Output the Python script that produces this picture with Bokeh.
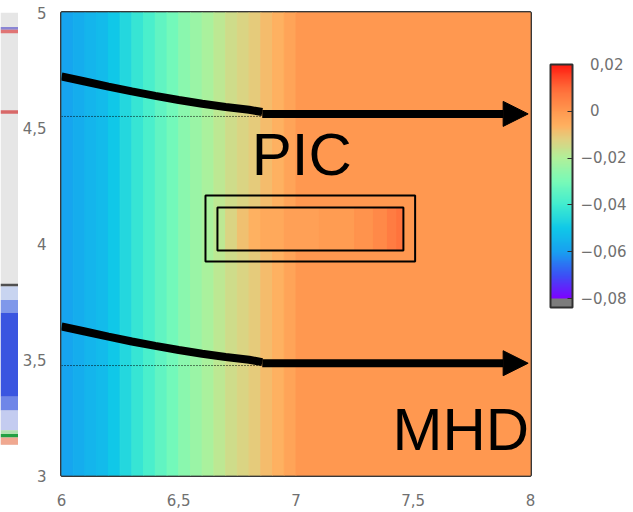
import numpy as np
from bokeh.plotting import figure
from bokeh.layouts import row
from bokeh.models import (Range1d, LinearColorMapper, ColorBar, FixedTicker,
                          CustomJSTickFormatter, Arrow, NormalHead,
                          ColumnDataSource, Label)
from bokeh.embed import file_html
from bokeh.resources import INLINE

# ---------------- colour scale ----------------
CMAP_LOW, CMAP_HIGH = -0.0838, 0.02
cmap_stops = [-0.080, -0.070, -0.060, -0.050, -0.040, -0.030,
              -0.020, -0.012, -0.006, 0.000, 0.010, 0.020]
cmap_colors = ["#7f00ff", "#3c50f5", "#18a0f0", "#10c8e8", "#40ecd0", "#78fab8",
               "#b0f09a", "#e0d080", "#ffb060", "#ff9850", "#ff6a38", "#ff1a10"]
under_color = "#7c7c7c"
colorbar_ticks = [-0.08, -0.06, -0.04, -0.02, 0.0, 0.02]

# ---------------- background field (banded along x) ----------------
band_edges = [6.00, 6.05, 6.10, 6.15, 6.20, 6.25, 6.30, 6.35, 6.40, 6.45, 6.50,
              6.55, 6.60, 6.65, 6.70, 6.75, 6.80, 6.85, 6.90, 6.95, 7.00, 8.00]
band_values = [-0.059, -0.057, -0.055, -0.053, -0.050, -0.046, -0.042, -0.038,
               -0.034, -0.031, -0.027, -0.024, -0.021, -0.018, -0.015, -0.013,
               -0.011, -0.008, -0.006, -0.003, 0.000]

# ---------------- PIC sub-domain ----------------
pic_edges = [6.665, 6.70, 6.75, 6.80, 6.85, 6.95, 7.10, 7.25, 7.33, 7.39, 7.43, 7.458]
pic_values = [-0.018, -0.013, -0.009, -0.006, -0.004, -0.002, -0.001,
              0.001, 0.003, 0.006, 0.008]
pic_inner_x = [6.665, 7.458]
pic_inner_y = [3.972, 4.158]
pic_outer_x = [6.614, 7.508]
pic_outer_y = [3.924, 4.210]

# ---------------- boundary curves and arrows ----------------
curve_x = [6.00, 6.10, 6.20, 6.30, 6.40, 6.50, 6.60, 6.70, 6.80, 6.856]
upper_y = [4.724, 4.702, 4.680, 4.659, 4.640, 4.622, 4.606, 4.592, 4.580, 4.570]
lower_y = [3.644, 3.622, 3.600, 3.579, 3.560, 3.542, 3.526, 3.512, 3.500, 3.490]
arrow_x_start = [6.856, 6.856]
arrow_x_end = [7.99, 7.99]
arrow_y = [4.562, 3.485]
dotted_x = [6.0, 6.856]
dotted_y = [4.551, 3.475]

x_ticks = [6, 6.5, 7, 7.5, 8]
y_ticks = [3, 3.5, 4, 4.5, 5]

# ---------------- neighbouring panel fragment (pixel rows) ----------------
strip_top = [16, 19, 108, 300, 303, 318, 332, 425, 440, 462, 466, 470]
strip_bottom = [19, 23, 112, 303, 318, 332, 425, 440, 462, 466, 470, 478]
strip_colors = ["#8a86d4", "#e07474", "#d86868", "#505050", "#c8d4f0", "#7f98ea",
                "#3a55e0", "#6f86e8", "#c4ccf0", "#b0e0b0", "#22a042", "#f0a890"]


def build_palette(n=256):
    rgb = np.array([[int(c[i:i + 2], 16) for i in (1, 3, 5)] for c in cmap_colors], float)
    out = []
    step = (CMAP_HIGH - CMAP_LOW) / n
    for k in range(n):
        v = CMAP_LOW + (k + 0.5) * step
        if v < -0.080:
            out.append(under_color)
            continue
        ch = [int(round(np.interp(v, cmap_stops, rgb[:, j]))) for j in range(3)]
        out.append("#%02x%02x%02x" % tuple(ch))
    return out


mapper = LinearColorMapper(palette=build_palette(), low=CMAP_LOW, high=CMAP_HIGH)
mapped = {"field": "value", "transform": mapper}

TICK_FONT = "DejaVu Sans"
TICK_COLOR = "#707070"

p = figure(width=614, height=512, x_range=Range1d(6, 8), y_range=Range1d(3, 5),
           min_border_left=39, min_border_right=103, min_border_top=12,
           min_border_bottom=37, output_backend="svg", toolbar_location=None)
p.grid.visible = False
p.outline_line_color = "#383838"
p.outline_line_width = 3
p.background_fill_color = "white"
p.border_fill_color = "white"

for ax, ticks in ((p.xaxis, x_ticks), (p.yaxis, y_ticks)):
    ax.ticker = FixedTicker(ticks=ticks)
    ax.formatter = CustomJSTickFormatter(code="return String(tick).replace('.', ',');")
    ax.axis_line_color = None
    ax.major_tick_line_color = None
    ax.minor_tick_line_color = None
    ax.major_label_text_font = TICK_FONT
    ax.major_label_text_font_size = "15px"
    ax.major_label_text_color = TICK_COLOR
p.xaxis.major_label_standoff = 12
p.yaxis.major_label_standoff = 9

# field bands (stroked in their own colour so no seams show between them)
bands = ColumnDataSource(dict(left=band_edges[:-1], right=band_edges[1:], value=band_values))
p.quad(left="left", right="right", bottom=3, top=5, source=bands,
       fill_color=mapped, line_color=mapped, line_width=1)

# PIC region field
pic = ColumnDataSource(dict(left=pic_edges[:-1], right=pic_edges[1:], value=pic_values))
p.quad(left="left", right="right", bottom=pic_inner_y[0], top=pic_inner_y[1], source=pic,
       fill_color=mapped, line_color=mapped, line_width=1)

# PIC boxes
for bx, by in ((pic_inner_x, pic_inner_y), (pic_outer_x, pic_outer_y)):
    p.quad(left=bx[0], right=bx[1], bottom=by[0], top=by[1],
           fill_color=None, line_color="black", line_width=2)

# dotted reference lines
for dy in dotted_y:
    p.line(dotted_x, [dy, dy], line_color="black", line_width=1, line_dash="1 2")

# boundary curves
p.line(curve_x, upper_y, line_color="black", line_width=8)
p.line(curve_x, lower_y, line_color="black", line_width=8)

arrows = ColumnDataSource(dict(x0=arrow_x_start, x1=arrow_x_end, y=arrow_y))
p.add_layout(Arrow(x_start="x0", y_start="y", x_end="x1", y_end="y", source=arrows,
                   line_color="black", line_width=8,
                   end=NormalHead(size=25, fill_color="black", line_color="black")))

p.add_layout(Label(x=7.025, y=4.244, text="PIC", text_font="Liberation Sans",
                   text_font_size="60px", text_align="center", text_color="black"))
p.add_layout(Label(x=7.703, y=3.052, text="MHD", text_font="Liberation Sans",
                   text_font_size="60px", text_align="center", text_color="black"))

cbar_fmt = CustomJSTickFormatter(code="""
    if (Math.abs(tick) < 1e-9) return '\\u2007' + '0';
    const s = Math.abs(tick).toFixed(2).replace('.', ',');
    return (tick < 0 ? '\\u2212' : '\\u2007') + s;
""")
cbar = ColorBar(color_mapper=mapper, ticker=FixedTicker(ticks=colorbar_ticks),
                formatter=cbar_fmt, width=22, height=243, location=(20, 168),
                padding=0, margin=0, label_standoff=8,
                border_line_color=None, background_fill_alpha=0,
                bar_line_color="#303030", bar_line_width=2,
                major_tick_line_color="#303030", major_tick_in=5, major_tick_out=0,
                minor_tick_line_color=None,
                major_label_text_font=TICK_FONT, major_label_text_font_size="15px",
                major_label_text_color=TICK_COLOR)
p.add_layout(cbar, "right")

# fragment of the neighbouring panel on the far left
s = figure(width=19, height=512, x_range=Range1d(0, 19), y_range=Range1d(512, 0),
           min_border=0, output_backend="svg", toolbar_location=None)
s.axis.visible = False
s.grid.visible = False
s.outline_line_color = None
s.quad(left=0, right=17.5, bottom=478, top=0, fill_color="#e6e6e6", line_color=None)
s.quad(left=0, right=17.5, top=strip_top, bottom=strip_bottom,
       fill_color=strip_colors, line_color=None)

layout = row(s, p, spacing=0)
open("out.html", "w").write(file_html(layout, INLINE))
